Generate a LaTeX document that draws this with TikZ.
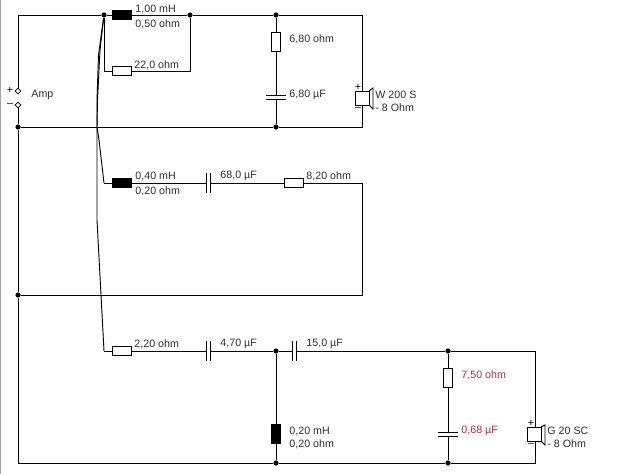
\documentclass[tikz,border=0pt]{standalone}
\usepackage{fontspec}
\usetikzlibrary{shapes.geometric}
\setmainfont{Liberation Sans}
\definecolor{redval}{RGB}{176,48,56}
\definecolor{txtgray}{RGB}{45,45,45}
\begin{document}
\begin{tikzpicture}[x=0.75pt,y=-0.75pt,line width=0.7pt,
    dot/.style={fill=black,circle,inner sep=0pt,minimum size=3.9pt},
    term/.style={draw,fill=white,diamond,aspect=1,inner sep=0pt,minimum size=4.5pt,line width=0.45pt},
    resh/.style={draw,fill=white,inner sep=0pt,minimum width=14.2pt,minimum height=6.6pt},
    resv/.style={draw,fill=white,inner sep=0pt,minimum width=6.6pt,minimum height=14.2pt},
    indh/.style={fill=black,inner sep=0pt,minimum width=15pt,minimum height=8pt},
    indv/.style={fill=black,inner sep=0pt,minimum width=8pt,minimum height=15pt},
    val/.style={anchor=west,inner sep=0pt,font=\fontsize{8}{9}\selectfont,text=txtgray},
    sign/.style={inner sep=0pt,font=\fontsize{8}{9}\selectfont}]
  \useasboundingbox (0,0) rectangle (632,474);
  \fill[gray!70] (0,0) rectangle (1,474);
  % amp
  \node[term] (ampp) at (18,91) {};
  \node[term] (ampm) at (18,105) {};
  \node[sign] (plus) at (10,90) {+};
  \node[sign] (minus) at (10,105) {--};
  \node[val] (amp) at (31,95) {Amp};
  \node[dot] (gnd1) at (18,127) {};
  \node[dot] (gnd2) at (18,295) {};
  \coordinate (tl) at (18,15);
  \coordinate (bl) at (18,463);
  % woofer
  \node[dot] (w1) at (104,15) {};
  \node[dot] (w2) at (190,15) {};
  \node[dot] (w3) at (276,15) {};
  \node[dot] (w4) at (276,127) {};
  \coordinate (wtr) at (362,15);
  \coordinate (wbr) at (362,127);
  \coordinate (rl) at (104,71);
  \coordinate (rr) at (190,71);
  \node[indh] (l1) at (122,15) {};
  \node[resh] (r1) at (122,71) {};
  \node[resv] (r2) at (276,42) {};
  \coordinate (c1t) at (276,95.5);
  \coordinate (c1b) at (276,99.5);
  \node[val] (l1a) at (135,9) {1,00 mH};
  \node[val] (l1b) at (135,24) {0,50 ohm};
  \node[val] (r1a) at (134,65) {22,0 ohm};
  \node[val] (r2a) at (289,39) {6,80 ohm};
  \node[val] (c1a) at (289,95) {6,80 µF};
  \node[val] (s1a) at (375,95) {W 200 S};
  \node[val] (s1b) at (375,108) {- 8 Ohm};
  \draw (ampp) -- (tl) -- (w1) -- (l1) -- (w2) -- (w3) -- (wtr) -- (362,91);
  \draw (w1) -- (rl) -- (r1) -- (rr) -- (w2);
  \draw (w3) -- (r2) -- (c1t);
  \draw (c1b) -- (w4);
  \draw (266,95.5) -- (286,95.5);
  \draw (266,99.5) -- (286,99.5);
  \draw (ampm) -- (gnd1) -- (w4) -- (wbr) -- (362,105);
  \draw (gnd1) -- (gnd2) -- (bl);
  % woofer speaker
  \node[draw,fill=white,inner sep=0pt,minimum size=10.5pt] (s1) at (362,98) {};
  \draw (369,91) -- (373,88) -- (373,109) -- (369,105);
  \node[sign] (s1p) at (358,87) {+};
  \node[sign] (s1m) at (358,109) {--};
  % mid
  \coordinate (m0) at (104,183);
  \node[indh] (l2) at (122,183) {};
  \coordinate (c2l) at (206.5,183);
  \coordinate (c2r) at (210.5,183);
  \node[resh] (r3) at (294,183) {};
  \coordinate (mtr) at (362,183);
  \coordinate (mbr) at (362,295);
  \node[val] (l2a) at (135,176) {0,40 mH};
  \node[val] (l2b) at (135,191) {0,20 ohm};
  \node[val] (c2a) at (220,176) {68,0 µF};
  \node[val] (r3a) at (306,176) {8,20 ohm};
  \draw (m0) -- (l2) -- (c2l);
  \draw (206.5,173) -- (206.5,193);
  \draw (210.5,173) -- (210.5,193);
  \draw (c2r) -- (r3) -- (mtr) -- (mbr) -- (gnd2);
  % tweeter
  \coordinate (t0) at (104,351);
  \node[resh] (r4) at (122,351) {};
  \coordinate (c3l) at (206.5,351);
  \coordinate (c3r) at (210.5,351);
  \node[dot] (t1) at (276,351) {};
  \coordinate (c4l) at (292,351);
  \coordinate (c4r) at (296,351);
  \node[dot] (t2) at (448,351) {};
  \coordinate (ttr) at (535,351);
  \node[indv] (l3) at (276,434) {};
  \node[resv] (r5) at (448,378) {};
  \coordinate (c5t) at (448,432);
  \coordinate (c5b) at (448,436);
  \node[dot] (t3) at (276,463) {};
  \node[dot] (t4) at (448,463) {};
  \coordinate (tbr) at (535,463);
  \node[val] (r4a) at (134,344) {2,20 ohm};
  \node[val] (c3a) at (220,344) {4,70 µF};
  \node[val] (c4a) at (306,344) {15,0 µF};
  \node[val] (l3a) at (289,431) {0,20 mH};
  \node[val] (l3b) at (289,444) {0,20 ohm};
  \node[val,text=redval] (r5a) at (461,375) {7,50 ohm};
  \node[val,text=redval] (c5a) at (461,431) {0,68 µF};
  \node[val] (s2a) at (547,431) {G 20 SC};
  \node[val] (s2b) at (547,444) {- 8 Ohm};
  \draw (t0) -- (r4) -- (c3l);
  \draw (206.5,341) -- (206.5,361);
  \draw (210.5,341) -- (210.5,361);
  \draw (c3r) -- (t1) -- (c4l);
  \draw (292,341) -- (292,361);
  \draw (296,341) -- (296,361);
  \draw (c4r) -- (t2) -- (ttr) -- (535,427);
  \draw (t1) -- (l3) -- (t3);
  \draw (t2) -- (r5) -- (c5t);
  \draw (c5b) -- (t4);
  \draw (438,432) -- (458,432);
  \draw (438,436) -- (458,436);
  \draw (bl) -- (t3) -- (t4) -- (tbr) -- (535,441);
  % tweeter speaker
  \node[draw,fill=white,inner sep=0pt,minimum size=10.5pt] (s2) at (534,434) {};
  \draw (541,427) -- (545,425) -- (545,445) -- (541,441);
  \node[sign] (s2p) at (531,423) {+};
  \node[sign] (s2m) at (531,445) {--};
  % flexible leads
  \draw (w1) -- (100,50) -- (97.5,100) -- (97,127) -- (99,140) -- (m0);
  \draw (w1) -- (98.5,55) -- (97,100) -- (97,220) -- (101,295) -- (t0);
\end{tikzpicture}
\end{document}
